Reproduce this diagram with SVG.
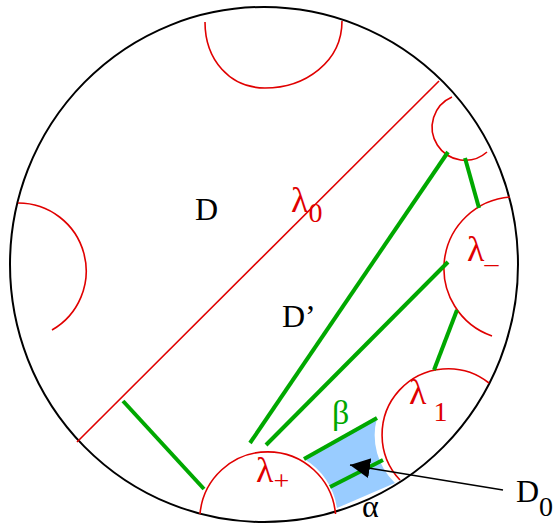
<svg xmlns="http://www.w3.org/2000/svg" width="556" height="525" viewBox="0 0 556 525">
<style>
.bd{fill:none;stroke:#000;stroke-width:2}
.rd{fill:none;stroke:#e00000;stroke-width:1.6}
.gr{fill:none;stroke:#00a800;stroke-width:4}
.t{font-family:"Liberation Serif","Times New Roman",serif;font-size:32px;fill:#000}
.tr{font-family:"Liberation Serif","Times New Roman",serif;fill:#e00000}
</style>
<defs>
<marker id="ah" markerWidth="22" markerHeight="22" refX="20" refY="10" orient="auto" markerUnits="userSpaceOnUse">
<path d="M0,0 L20,10 L0,20 Z" fill="#000"/>
</marker>
</defs>
<rect width="556" height="525" fill="#fff"/>
<g id="region-D0">
<path d="M304,459 L377,418 A66,66 0 0 0 395,483 L337,508 A68,68 0 0 0 304,459 Z" fill="#99ccff"/>
</g>
<g id="boundary">
<ellipse cx="264" cy="264.5" rx="254" ry="257.5" class="bd"/>
</g>
<g id="arc-top"><path d="M205,22 C205,60 230,88 265,88 C305,88 342,62 342,21" class="rd"/></g>
<g id="arc-left"><path d="M18,203 A68,68 0 0 1 52,330" class="rd"/></g>
<g id="arc-small"><path d="M452,97 A33,33 0 1 0 487,152" class="rd"/></g>
<g id="lambda0"><path d="M77,442 L439,81" class="rd"/></g>
<g id="lambda-minus"><path d="M510,197 A71.6,71.6 0 0 0 492,336" class="rd"/></g>
<g id="lambda1"><path d="M489,383 A66,66 0 0 0 400,480" class="rd"/></g>
<g id="lambda-plus"><path d="M200,514 A68,68 0 0 1 335.5,514" class="rd"/></g>
<g id="connectors">
<path d="M123,401 L204,489" class="gr"/>
<path d="M250,443 L448,152" class="gr"/>
<path d="M266,445 L448,262" class="gr"/>
<path d="M465,158 L479,208" class="gr"/>
<path d="M457,310 L434,370" class="gr"/>
<path d="M304,459 L377,418" class="gr"/>
<path d="M330,487 L383,460" class="gr"/>
<path d="M503,490 L350,465" fill="none" stroke="#000" stroke-width="1.5" marker-end="url(#ah)"/>
</g>
<g id="labels">
<text x="195" y="220" class="t">D</text>
<text x="282" y="327" class="t">D’</text>
<text x="291" y="212" class="tr" font-size="36">λ<tspan font-size="28" dy="10">0</tspan></text>
<text x="467" y="261" class="tr" font-size="36">λ<tspan font-size="28" dy="2">_</tspan></text>
<text x="409" y="404" class="tr" font-size="36">λ<tspan font-size="28" dy="17"> 1</tspan></text>
<text x="256" y="482" class="tr" font-size="36">λ<tspan font-size="28" dy="8">+</tspan></text>
<text x="332" y="424" font-family="Liberation Serif, serif" font-size="34" fill="#00a800">β</text>
<text x="362" y="517" class="t" font-size="34">α</text>
<text x="516" y="502" class="t" font-size="36">D<tspan font-size="28" dy="14">0</tspan></text>
</g>
</svg>
